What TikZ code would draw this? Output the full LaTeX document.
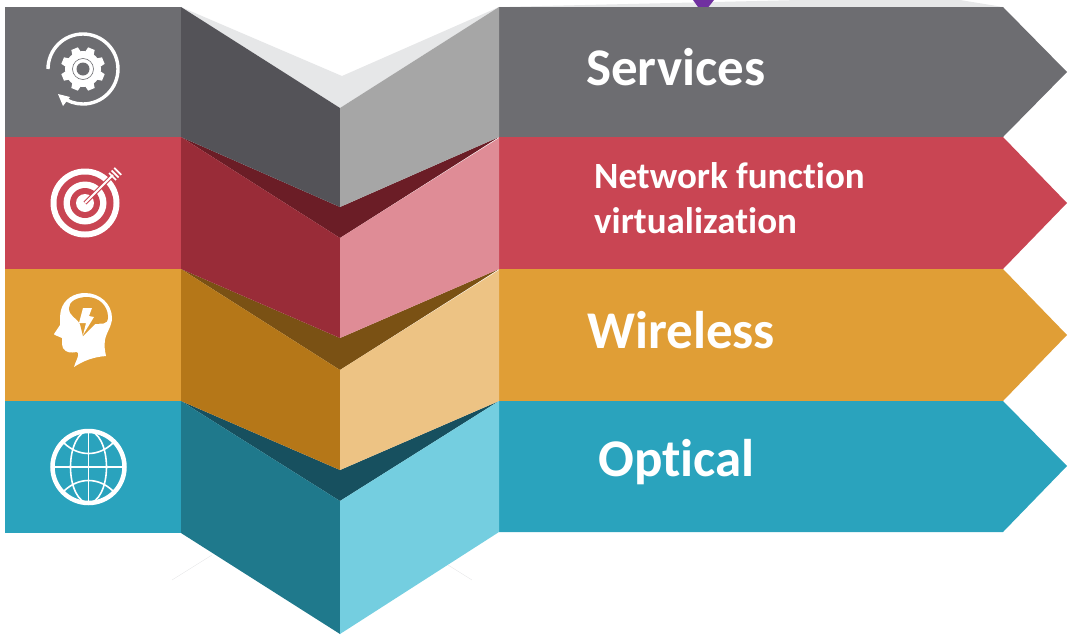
\documentclass[tikz,border=0pt]{standalone}
\usepackage{fontspec}
\setmainfont[Ligatures=NoCommon]{Carlito}
\definecolor{grayband}{HTML}{6D6D71}
\definecolor{grayleft}{HTML}{545358}
\definecolor{grayright}{HTML}{A6A6A6}
\definecolor{shadow}{HTML}{E6E7E8}
\definecolor{redband}{HTML}{C94553}
\definecolor{redleft}{HTML}{992C38}
\definecolor{redright}{HTML}{DF8C96}
\definecolor{redfold}{HTML}{6B1D26}
\definecolor{orangeband}{HTML}{E09E36}
\definecolor{orangeleft}{HTML}{B57718}
\definecolor{orangeright}{HTML}{EDC384}
\definecolor{orangefold}{HTML}{7A5114}
\definecolor{tealband}{HTML}{2AA3BD}
\definecolor{tealleft}{HTML}{1F798C}
\definecolor{tealright}{HTML}{74CEE0}
\definecolor{tealfold}{HTML}{17505F}
\definecolor{purpletip}{HTML}{7030A0}
\tikzset{
	bandlabel/.style={anchor=base west, inner sep=0pt, text=white, font=\bfseries\fontsize{53}{53}\selectfont},
	smalllabel/.style={anchor=base west, inner sep=0pt, text=white, font=\bfseries\fontsize{37}{37}\selectfont},
	iconline/.style={draw=white, fill=none}
}
\begin{document}
\begin{tikzpicture}[x=1pt,y=-1pt]
	\useasboundingbox (0,0) rectangle (1068,635);

	% shadows on top
	\fill[shadow] (181,7) -- (342,76) -- (499,7) -- (340,108) -- cycle;
	\fill[shadow] (499,7) -- (800,0) -- (960,0) -- (1003,7) -- cycle;
	\fill[purpletip] (693,0) -- (714,0) -- (703,14) -- cycle;
	\draw[shadow] (172,580) -- (212,555);
	\draw[shadow] (448,565) -- (472,580);

	% left blocks
	\fill[grayband] (5,7) rectangle (181,137);
	\fill[redband] (5,137) rectangle (181,269);
	\fill[orangeband] (5,269) rectangle (181,401);
	\fill[tealband] (5,401) rectangle (181,533);

	% right arrows
	\fill[grayband] (499,7) -- (1003,7) -- (1067,72) -- (1003,137) -- (499,137) -- cycle;
	\fill[redband] (499,137) -- (1003,137) -- (1067,203) -- (1003,269) -- (499,269) -- cycle;
	\fill[orangeband] (499,269) -- (1003,269) -- (1067,335) -- (1003,401) -- (499,401) -- cycle;
	\fill[tealband] (499,401) -- (1003,401) -- (1067,466) -- (1003,532) -- (499,532) -- cycle;

	% folds
	\fill[redfold] (181,137) -- (340,207) -- (499,137) -- (340,238) -- cycle;
	\fill[orangefold] (181,269) -- (340,338) -- (499,269) -- (340,370) -- cycle;
	\fill[tealfold] (181,401) -- (340,470) -- (499,401) -- (340,501) -- cycle;

	% panels
	\fill[grayleft] (181,7) -- (340,108) -- (340,207) -- (181,137) -- cycle;
	\fill[grayright] (340,108) -- (499,7) -- (499,137) -- (340,207) -- cycle;
	\fill[redleft] (181,137) -- (340,238) -- (340,338) -- (181,269) -- cycle;
	\fill[redright] (340,238) -- (499,138) -- (499,269) -- (340,338) -- cycle;
	\fill[orangeleft] (181,269) -- (340,370) -- (340,470) -- (181,401) -- cycle;
	\fill[orangeright] (340,370) -- (499,270) -- (499,401) -- (340,470) -- cycle;
	\fill[tealleft] (181,401) -- (340,501) -- (340,634) -- (181,533) -- cycle;
	\fill[tealright] (340,501) -- (499,401) -- (499,532) -- (340,634) -- cycle;

	% labels
	\node[bandlabel] (services) at (586,85) {Services};
	\node[smalllabel] (network) at (594,188) {Network function};
	\node[smalllabel] (virt) at (594,233) {virtualization};
	\node[bandlabel] (wireless) at (587,348) {Wireless};
	\node[bandlabel] (optical) at (598,476) {Optical};

	% gear icon
	\begin{scope}[shift={(83,69)}]
		\draw[iconline, line width=3.4pt] (-35,0) arc[start angle=180, end angle=-128, x radius=35, y radius=-35];
		\fill[white] (-25,25) -- (-13,28) -- (-20,37) -- cycle;
		\foreach \a in {0,45,...,315}
			\fill[white, rotate=\a+22.5] (-4.5,-17) -- (-3.5,-22) -- (3.5,-22) -- (4.5,-17) -- cycle;
		\fill[white] (0,0) circle[radius=18];
		\draw[grayband, line width=0.6pt] (0,0) circle[radius=10.5];
		\fill[grayband] (0,0) circle[radius=6.5];
	\end{scope}

	% target icon
	\begin{scope}[shift={(85,203)}]
		\fill[white] (0,0) circle[radius=34.5];
		\fill[redband] (0,0) circle[radius=28.5];
		\fill[white] (0,0) circle[radius=21.5];
		\fill[redband] (0,0) circle[radius=15];
		\fill[white] (0,0) circle[radius=9];
		\draw[redband, line width=4pt] (0,0) -- (25,-25);
		\draw[white, line width=1.8pt] (0,0) -- (28,-28);
		\foreach \d in {0,2.6,5.2}
			\draw[white, line width=1.7pt] (24+\d,-30-\d) -- (31+\d,-23-\d);
	\end{scope}

	% head icon
	\fill[white] (74,367) .. controls (76,360) and (79,357) .. (78,353)
		-- (77,352) .. controls (71,353) and (66,353) .. (63,348)
		-- (62,344) -- (62,338) -- (55,335) -- (54,334) -- (60,325)
		.. controls (60,318) and (60,314) .. (61,310)
		.. controls (64,299) and (74,293) .. (85,293)
		.. controls (100,293) and (112,304) .. (112,318)
		.. controls (112,326) and (106,333) .. (105,340)
		.. controls (104,346) and (105,351) .. (106,356)
		.. controls (93,357) and (83,361) .. (74,367) -- cycle;
	\fill[orangeband] (69,308) .. controls (69,301) and (78,297) .. (87,297)
		.. controls (99,297) and (108,306) .. (108,317)
		.. controls (108,326) and (100,323) .. (95,324)
		-- (83,336) -- (80,324)
		.. controls (76,317) and (69,316) .. (69,308) -- cycle;
	\fill[white] (83,308) -- (92,308) -- (89,316) -- (94,317) -- (83,335) -- (86,323) -- (79,323) -- cycle;

	% globe icon
	\begin{scope}[shift={(88.5,467)}]
		\draw[iconline, line width=4.5pt] (0,0) circle[radius=36];
		\draw[iconline, line width=1.6pt] (0,0) ellipse[x radius=18, y radius=36];
		\draw[iconline, line width=1.6pt] (0,-36) -- (0,36);
		\draw[iconline, line width=1.6pt] (-36,0) -- (36,0);
		\draw[iconline, line width=1.6pt] (-24.5,-24) .. controls (-10,-10) and (10,-10) .. (24.5,-24);
		\draw[iconline, line width=1.6pt] (-24.5,24) .. controls (-10,10) and (10,10) .. (24.5,24);
	\end{scope}
\end{tikzpicture}
\end{document}
